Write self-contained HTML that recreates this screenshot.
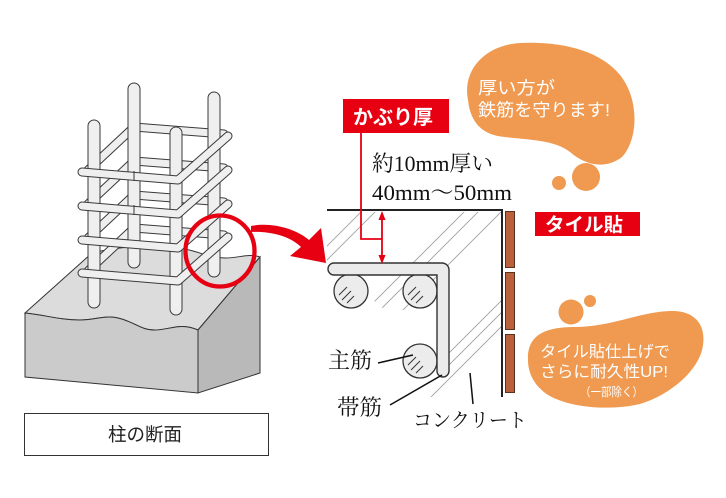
<!DOCTYPE html>
<html><head><meta charset="utf-8"><style>
html,body{margin:0;padding:0;background:#fff;width:726px;height:498px;overflow:hidden;}
svg{display:block;}
.sans{font-family:"Liberation Sans","Noto Sans CJK JP",sans-serif;}
.serif{font-family:"Liberation Serif","Noto Serif CJK JP","Noto Serif CJK SC",serif;}
</style></head><body>
<svg width="726" height="498" viewBox="0 0 726 498" xmlns="http://www.w3.org/2000/svg">
<defs>
<clipPath id="hc"><polygon points="327,212 501,212 501,397 425,397 445,377 445,310 385,310 327,262"/></clipPath>
</defs>
<rect width="726" height="498" fill="#fff"/>

<!-- concrete block -->
<path d="M25,313 L92,253 C120,246 150,244 185,249 C200,252 210,258 225,258 C240,258 248,253 260,257 L198,330 C180,322 170,330 155,330 C140,330 135,322 118,318 C105,315 95,320 80,320 C60,320 45,315 25,313 Z" fill="#dcdcdc" stroke="#333" stroke-width="1"/>
<path d="M25,313 C45,315 60,320 80,320 C95,320 105,315 118,318 C135,322 140,330 155,330 C170,330 180,322 198,330 L198,393 L25,377 Z" fill="#cbcbcb" stroke="#333" stroke-width="1"/>
<path d="M198,330 L260,257 L260,373 L198,393 Z" fill="#b9b9b9" stroke="#333" stroke-width="1"/>

<!-- hoops back parts -->
<g fill="none" stroke-linecap="round" stroke-linejoin="round">
<g stroke="#3a3a3a" stroke-width="9">
<polyline points="88,170 134,127 224,134"/>
<polyline points="88,204 134,161 224,168"/>
<polyline points="88,238 134,195 224,202"/>
<polyline points="88,271 134,228 224,235"/>
</g>
<g stroke="#efefef" stroke-width="7">
<polyline points="88,170 134,127 224,134"/>
<polyline points="88,204 134,161 224,168"/>
<polyline points="88,238 134,195 224,202"/>
<polyline points="88,271 134,228 224,235"/>
</g>
</g>

<!-- vertical bars -->
<g fill="#efefef" stroke="#3a3a3a" stroke-width="1">
<rect x="128" y="83" width="12" height="185" rx="6"/>
<rect x="208" y="92" width="12" height="185" rx="6"/>
<rect x="88" y="120" width="12" height="188" rx="6"/>
<rect x="170" y="127" width="12" height="188" rx="6"/>
</g>

<!-- hoops front parts -->
<g fill="none" stroke-linecap="round" stroke-linejoin="round">
<g stroke="#3a3a3a" stroke-width="9">
<polyline points="82,172 178,180 228,136"/>
<polyline points="82,206 178,214 228,170"/>
<polyline points="82,240 178,248 228,204"/>
<polyline points="82,273 178,281 228,237"/>
</g>
<g stroke="#efefef" stroke-width="7">
<polyline points="82,172 178,180 228,136"/>
<polyline points="82,206 178,214 228,170"/>
<polyline points="82,240 178,248 228,204"/>
<polyline points="82,273 178,281 228,237"/>
</g>
</g>
<g stroke="#3a3a3a" stroke-width="1">
<line x1="134" y1="171" x2="134" y2="181"/>
<line x1="134" y1="205" x2="134" y2="215"/>
</g>

<!-- red circle -->
<ellipse cx="220" cy="251" rx="34.5" ry="35.5" fill="none" stroke="#e60012" stroke-width="4.3"/>

<!-- red curved arrow -->
<path d="M251,226 C270,222 295,228 309,240 L321,228 L326,263 L290,256 L301,247 C290,236 270,231 251,232 Z" fill="#e60012"/>

<!-- label box -->
<rect x="24.5" y="413.5" width="244" height="42" fill="#fff" stroke="#333" stroke-width="1"/>
<text x="108" y="441" font-size="18.5" textLength="74" lengthAdjust="spacingAndGlyphs" class="sans" fill="#222">柱の断面</text>

<!-- hatch -->
<g clip-path="url(#hc)" stroke="#a0a0a0" stroke-width="0.9">
<line x1="173" y1="400" x2="368" y2="205"/>
<line x1="187" y1="400" x2="382" y2="205"/>
<line x1="276" y1="400" x2="471" y2="205"/>
<line x1="290" y1="400" x2="485" y2="205"/>
<line x1="313" y1="400" x2="508" y2="205"/>
<line x1="402" y1="400" x2="597" y2="205"/>
<line x1="414" y1="400" x2="609" y2="205"/>
<line x1="428" y1="400" x2="623" y2="205"/>
</g>

<!-- wall lines -->
<polyline points="327,210 502,210 502,397" fill="none" stroke="#222" stroke-width="2"/>

<!-- bricks -->
<g fill="#b9613a" stroke="#5a3020" stroke-width="1">
<rect x="505.5" y="211.5" width="9" height="56"/>
<rect x="505.5" y="272.5" width="9" height="57"/>
<rect x="505.5" y="334.5" width="9" height="58"/>
</g>

<!-- main bars (circles) -->
<g fill="#ececec" stroke="#333" stroke-width="1.3">
<circle cx="351" cy="291" r="17"/>
<circle cx="420" cy="291" r="17"/>
<circle cx="420" cy="361" r="17"/>
</g>
<g stroke="#333" stroke-width="1">
<line x1="339" y1="295" x2="347" y2="287"/>
<line x1="342" y1="300" x2="351" y2="291"/>
<line x1="347" y1="303" x2="354" y2="296"/>
<line x1="408" y1="295" x2="416" y2="287"/>
<line x1="411" y1="300" x2="420" y2="291"/>
<line x1="416" y1="303" x2="423" y2="296"/>
<line x1="408" y1="365" x2="416" y2="357"/>
<line x1="411" y1="370" x2="420" y2="361"/>
<line x1="416" y1="373" x2="423" y2="366"/>
</g>

<!-- hoop L -->
<path d="M334,263 L442,263 A7,7 0 0 1 449,270 L449,371 A6,6 0 0 1 437,371 L437,275 L334,275 A6,6 0 0 1 334,263 Z" fill="#ebebeb" stroke="#333" stroke-width="1.4"/>

<!-- red dimension -->
<rect x="343" y="99" width="106" height="34" fill="#e60012"/>
<text x="353" y="124" font-size="20" font-weight="bold" textLength="80" lengthAdjust="spacingAndGlyphs" class="sans" fill="#fff">かぶり厚</text>
<polyline points="361,133 361,239 382,239" fill="none" stroke="#e60012" stroke-width="1.8"/>
<line x1="382" y1="218" x2="382" y2="257" stroke="#e60012" stroke-width="1.8"/>
<polygon points="382,211 378.5,220 385.5,220" fill="#e60012"/>
<polygon points="382,264 378.5,255 385.5,255" fill="#e60012"/>

<text x="372" y="171" font-size="22" textLength="121" lengthAdjust="spacingAndGlyphs" class="serif" fill="#111">約10mm厚い</text>
<text x="372" y="200" font-size="22" textLength="140" lengthAdjust="spacingAndGlyphs" class="serif" fill="#111">40mm〜50mm</text>

<!-- labels -->
<text x="328" y="368" font-size="22" textLength="44" lengthAdjust="spacingAndGlyphs" class="serif" fill="#111">主筋</text>
<line x1="378" y1="363" x2="413" y2="355" stroke="#111" stroke-width="1.5"/>
<text x="337" y="415" font-size="22" textLength="45" lengthAdjust="spacingAndGlyphs" class="serif" fill="#111">帯筋</text>
<line x1="390" y1="405" x2="442" y2="375" stroke="#111" stroke-width="1.5"/>
<text x="413" y="427" font-size="20" textLength="114" lengthAdjust="spacingAndGlyphs" class="serif" fill="#111">コンクリート</text>
<line x1="470" y1="373" x2="473" y2="404" stroke="#111" stroke-width="1.5"/>

<!-- tile label -->
<rect x="535" y="212" width="105" height="24" fill="#e60012"/>
<text x="545" y="231" font-size="19" font-weight="bold" textLength="78" lengthAdjust="spacingAndGlyphs" class="sans" fill="#fff">タイル貼</text>

<!-- bubble 1 -->
<path d="M468,100 C462,70 485,45 520,43 C560,41 600,50 620,75 C640,100 638,140 622,157 C605,170 585,165 570,152 C555,140 530,140 505,137 C480,135 470,120 468,100 Z" fill="#ef9a50"/>
<circle cx="586" cy="177" r="14" fill="#ef9a50"/>
<circle cx="559" cy="183" r="7" fill="#ef9a50"/>
<text x="478" y="94" font-size="17.5" textLength="77" lengthAdjust="spacingAndGlyphs" class="sans" fill="#fff">厚い方が</text>
<text x="478" y="116" font-size="17.5" textLength="132" lengthAdjust="spacingAndGlyphs" class="sans" fill="#fff">鉄筋を守ります!</text>

<!-- bubble 2 -->
<path d="M528,360 C527,335 545,327 575,327 C610,327 640,312 670,311 C695,310 706,325 703,345 C700,370 670,395 640,404 C610,411 570,408 548,395 C533,385 528,372 528,360 Z" fill="#ef9a50"/>
<circle cx="571" cy="312" r="12.5" fill="#ef9a50"/>
<circle cx="590" cy="301" r="6" fill="#ef9a50"/>
<text x="540" y="357" font-size="16" textLength="130" lengthAdjust="spacingAndGlyphs" class="sans" fill="#fff">タイル貼仕上げで</text>
<text x="540" y="377" font-size="16" textLength="128" lengthAdjust="spacingAndGlyphs" class="sans" fill="#fff">さらに耐久性UP!</text>
<text x="580" y="396" font-size="12" textLength="63" lengthAdjust="spacingAndGlyphs" class="sans" fill="#fff">（一部除く）</text>
</svg>
</body></html>
